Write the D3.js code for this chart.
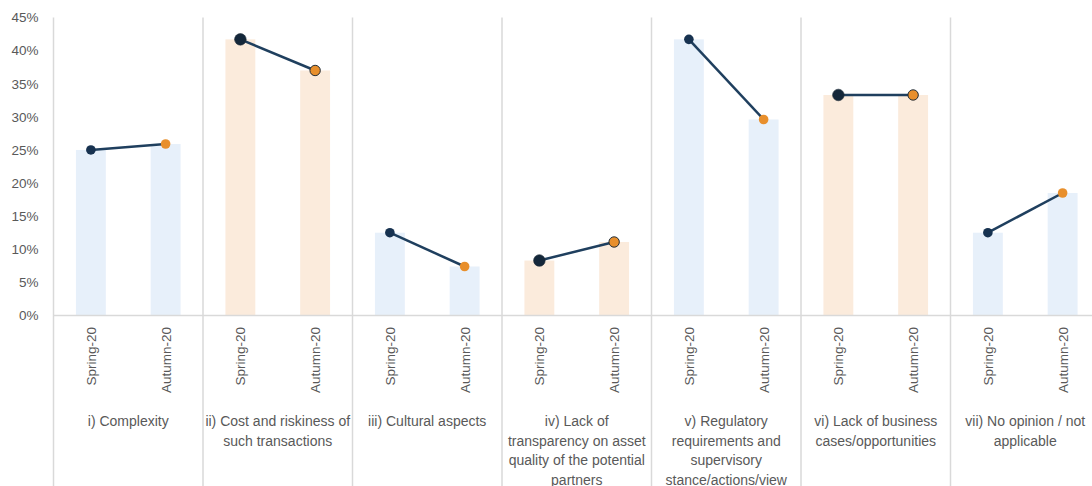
<!DOCTYPE html>
<html><head><meta charset="utf-8">
<script src="https://cdn.jsdelivr.net/npm/d3@7"></script>
<style>
html,body{margin:0;padding:0;background:#fff;}
svg{display:block;font-family:"Liberation Sans",Arial,sans-serif;}
</style></head>
<body><svg id="chart" width="1092" height="486"></svg>
<script>
const categories = [
  "i) Complexity",
  "ii) Cost and riskiness of\nsuch transactions",
  "iii) Cultural aspects",
  "iv) Lack of\ntransparency on asset\nquality of the potential\npartners",
  "v) Regulatory\nrequirements and\nsupervisory\nstance/actions/view",
  "vi) Lack of business\ncases/opportunities",
  "vii) No opinion / not\napplicable"
];
const periods = ["Spring-20", "Autumn-20"];
const spring20 = [0.250, 0.417, 0.125, 0.083, 0.417, 0.333, 0.125];
const autumn20 = [0.259, 0.370, 0.074, 0.111, 0.296, 0.333, 0.185];
const yTicks = [0, 0.05, 0.10, 0.15, 0.20, 0.25, 0.30, 0.35, 0.40, 0.45];

const svg = d3.select("#chart");
const leftX = 53.5, rightX = 1100, topY = 17.5, baseY = 315.5;
const x = d3.scaleBand().domain(categories).range([leftX, rightX]).padding(0);
const xi = d3.scaleBand().domain(periods).range([0, x.bandwidth()]).paddingInner(0.6).paddingOuter(0.3);
const y = d3.scaleLinear().domain([0, 0.45]).range([baseY, topY]);

const grey = "#d9d9d9", txt = "#595959";
const barCol = ["#e7f0fa", "#fbebdc"];

// separators
svg.append("g").selectAll("line").data(categories.concat(["__end"])).join("line")
  .attr("x1", (d, i) => leftX + i * x.bandwidth()).attr("x2", (d, i) => leftX + i * x.bandwidth())
  .attr("y1", topY).attr("y2", 486)
  .attr("stroke", grey).attr("stroke-width", 1.5);

// y axis labels
const yAxis = d3.axisLeft(y).tickValues(yTicks).tickFormat(d3.format(".0%")).tickSize(0).tickPadding(15);
const ga = svg.append("g").attr("transform", `translate(${leftX},0)`).call(yAxis);
ga.select(".domain").remove();
ga.selectAll("text").attr("fill", txt).style("font-size", "13.5px").style("font-family", "Liberation Sans, Arial, sans-serif");

// bars
const rows = [];
categories.forEach((c, i) => {
  rows.push({c, i, p: periods[0], v: spring20[i]});
  rows.push({c, i, p: periods[1], v: autumn20[i]});
});
svg.append("g").selectAll("rect").data(rows).join("rect")
  .attr("x", d => x(d.c) + xi(d.p))
  .attr("width", xi.bandwidth())
  .attr("y", d => y(d.v))
  .attr("height", d => baseY - y(d.v))
  .attr("fill", d => barCol[d.i % 2]);

// horizontal axis line
svg.append("line").attr("x1", leftX).attr("x2", 1092).attr("y1", baseY).attr("y2", baseY)
  .attr("stroke", grey).attr("stroke-width", 1.5);

// lines
const cx = (c, p) => x(c) + xi(p) + xi.bandwidth() / 2;
svg.append("g").selectAll("line").data(categories).join("line")
  .attr("x1", (c) => cx(c, periods[0])).attr("x2", (c) => cx(c, periods[1]))
  .attr("y1", (c, i) => y(spring20[i])).attr("y2", (c, i) => y(autumn20[i]))
  .attr("stroke", "#1f3f5e").attr("stroke-width", 2.5);

// markers
svg.append("g").selectAll("circle").data(rows).join("circle")
  .attr("cx", d => cx(d.c, d.p))
  .attr("cy", d => y(d.v))
  .attr("r", d => d.i % 2 ? (d.p === periods[0] ? 5.8 : 5.2) : 4.8)
  .attr("fill", d => d.p === periods[0] ? (d.i % 2 ? "#14273a" : "#173250") : "#e88f2c")
  .attr("stroke", d => d.i % 2 ? "#1f2c38" : "none")
  .attr("stroke-width", d => d.p === periods[0] ? 0.6 : 1);

// rotated period labels
svg.append("g").selectAll("text").data(rows).join("text")
  .attr("transform", d => `translate(${cx(d.c, d.p) + 5},327) rotate(-90)`)
  .attr("text-anchor", "end")
  .attr("fill", txt).style("font-size", "13.5px")
  .text(d => d.p);

// category labels
const cl = svg.append("g").selectAll("text").data(categories).join("text")
  .attr("text-anchor", "middle")
  .attr("fill", txt).style("font-size", "14px");
cl.each(function(c) {
  const t = d3.select(this);
  c.split("\n").forEach((line, k) => {
    t.append("tspan").attr("x", x(c) + x.bandwidth() / 2).attr("y", 426 + k * 19.7).text(line);
  });
});
</script>
</body></html>
